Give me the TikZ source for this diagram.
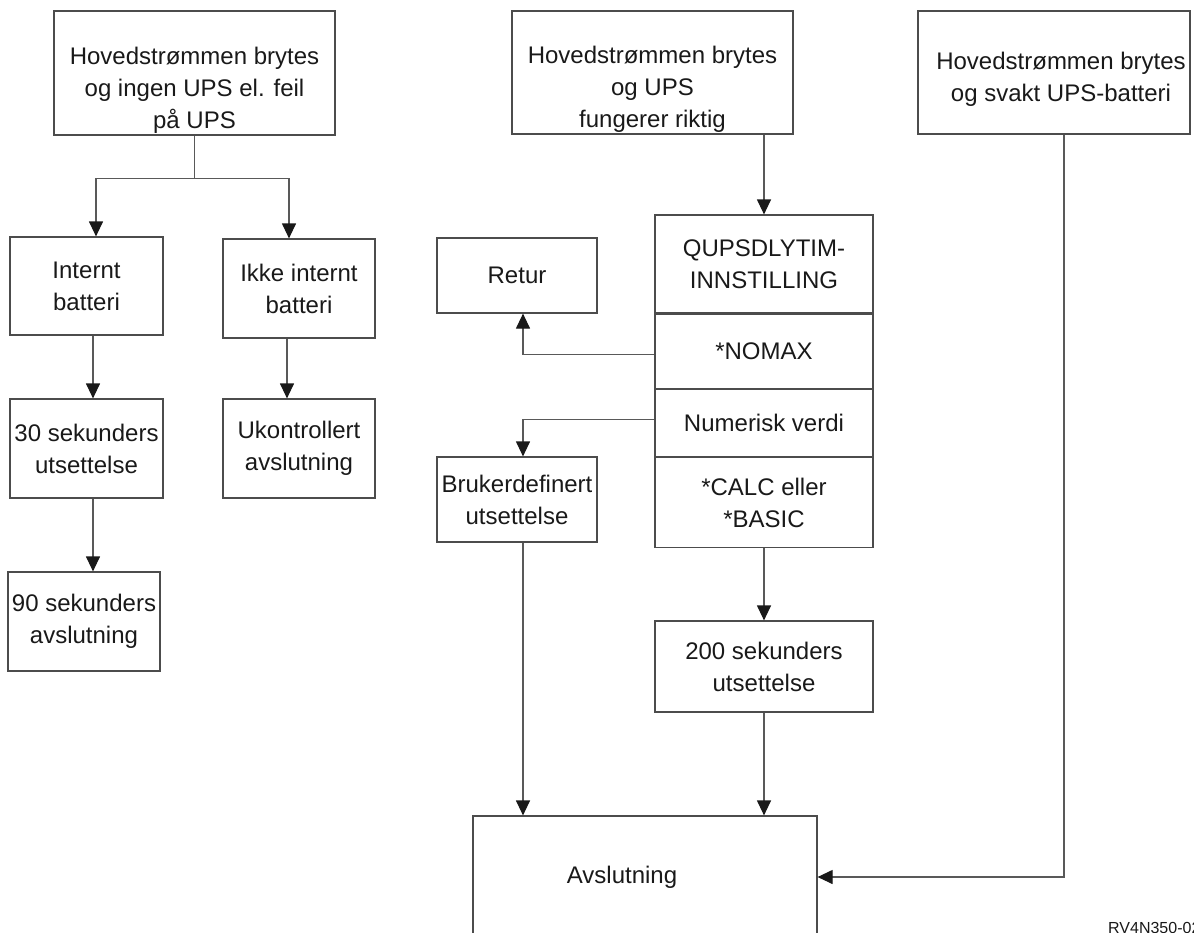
\documentclass[tikz,border=0pt]{standalone}
\usepackage{fontspec}
\setmainfont{Liberation Sans}
\usetikzlibrary{positioning,arrows.meta}

\begin{document}
\begin{tikzpicture}[
        x=1pt, y=-1pt,
        box/.style={draw=black!70, line width=1.2pt, inner sep=0pt, align=center, text=black!90, font=\fontsize{24}{32}\selectfont},
        conn/.style={draw=black!65, line width=1.2pt},
        arr/.style={conn, -{Triangle[length=15pt,width=14pt,color=black!90]}},
        every label/.style={align=center, inner sep=0pt, text=black!90, font=\fontsize{24}{32}\selectfont}
    ]
    \useasboundingbox (0,0) rectangle (1194,932);
    \clip (0,0) rectangle (1194,932);

    % three starting cases
    \node[box, minimum width=281pt, minimum height=124pt,
        label={[yshift=-17pt]center:Hovedstrømmen brytes\\og ingen UPS el. feil\\på UPS}] (powerA) at (194.5,73) {};
    \node[box, minimum width=281pt, minimum height=123pt,
        label={[yshift=-17pt]center:Hovedstrømmen brytes\\og UPS\\fungerer riktig}] (powerB) at (652.5,72.5) {};
    \node[box, minimum width=272pt, minimum height=123pt,
        label={[xshift=7pt, yshift=-7pt]center:Hovedstrømmen brytes\\og svakt UPS-batteri}] (powerC) at (1054,72.5) {};

    % left branch
    \node[box, minimum width=153pt, minimum height=98pt] (intern) at (86.5,286) {Internt\\batteri};
    \node[box, minimum width=152pt, minimum height=99pt] (extern) at (299,288.5) {Ikke internt\\batteri};
    \node[box, minimum width=153pt, minimum height=99pt] (sec30) at (86.5,448.5) {30 sekunders\\utsettelse};
    \node[box, minimum width=152pt, minimum height=99pt] (uncontrolled) at (299,448.5) {Ukontrollert\\avslutning};
    \node[box, minimum width=152pt, minimum height=99pt] (sec90) at (84,621.5) {90 sekunders\\avslutning};

    % QUPSDLYTIM table
    \node[box, minimum width=218pt, minimum height=98pt] (qupsd) at (764,264) {QUPSDLYTIM-\\INNSTILLING};
    \node[box, minimum width=218pt, minimum height=74pt, below=0pt of qupsd] (nomax) {*NOMAX};
    \node[box, minimum width=218pt, minimum height=67pt, below=0pt of nomax] (numval) {Numerisk verdi};
    \node[box, minimum width=218pt, minimum height=90pt, below=0pt of numval] (calc) {*CALC eller\\*BASIC};

    \node[box, minimum width=160pt, minimum height=75pt] (retur) at (517,275.5) {Retur};
    \node[box, minimum width=160pt, minimum height=85pt] (userdef) at (517,499.5) {Brukerdefinert\\utsettelse};
    \node[box, minimum width=218pt, minimum height=91pt] (sec200) at (764,666.5) {200 sekunders\\utsettelse};
    \node[box, minimum width=344pt, minimum height=122pt,
        label={[xshift=-23pt]center:Avslutning}] (shutdown) at (645,877) {};

    \node[anchor=north west, inner sep=0pt, text=black!90, font=\fontsize{16}{18}\selectfont] (figid) at (1108,922) {RV4N350-02};

    % connectors
    \draw[conn] (powerA.south) -- ++(0,43) coordinate (splitA);
    \draw[arr] (splitA) -| ([xshift=9.5pt]intern.north);
    \draw[arr] (splitA) -| ([xshift=-10pt]extern.north);
    \draw[arr] ([xshift=6.5pt]intern.south) -- ([xshift=6.5pt]sec30.north);
    \draw[arr] ([xshift=6.5pt]sec30.south) -- ([xshift=6.5pt]sec30.south |- sec90.north);
    \draw[arr] ([xshift=-12pt]extern.south) -- ([xshift=-12pt]uncontrolled.north);

    \draw[arr] (powerB.south -| qupsd.north) -- (qupsd.north);
    \draw[arr] ([yshift=-3pt]nomax.west) -| ([xshift=6pt]retur.south);
    \draw[arr] ([yshift=3.5pt]numval.west) -| ([xshift=6pt]userdef.north);
    \draw[arr] ([xshift=6pt]userdef.south) -- ([xshift=6pt]userdef.south |- shutdown.north);
    \draw[arr] (calc.south) -- (sec200.north);
    \draw[arr] (sec200.south) -- (sec200.south |- shutdown.north);
    \draw[arr] ([xshift=10pt]powerC.south) |- (shutdown.east);
\end{tikzpicture}
\end{document}
